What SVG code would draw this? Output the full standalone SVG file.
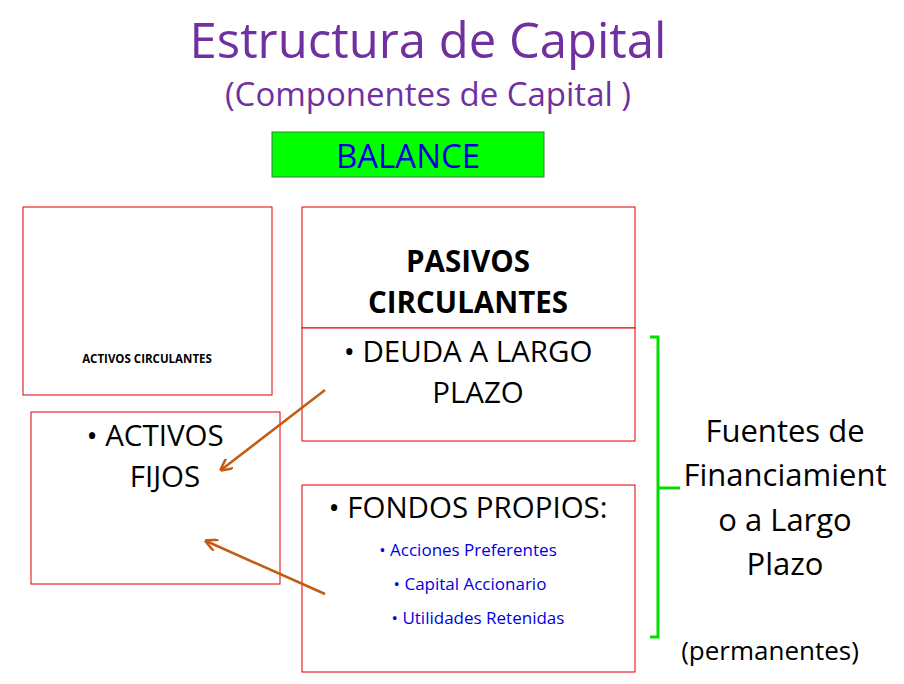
<svg xmlns="http://www.w3.org/2000/svg" width="904" height="684" viewBox="0 0 904 684">
<defs>
<style>
text{font-family:"Open Sans","Liberation Sans",sans-serif;fill:#000}
.box{fill:#fff;stroke:#e00000;stroke-width:1}
.big{font-size:29.5px}
.blue{fill:#0000e0;font-size:17px}
.arr{stroke:#c55a11;stroke-width:2.5;fill:none;marker-end:url(#ah)}
</style>
<marker id="ah" viewBox="0 0 10 10" refX="9" refY="5" markerWidth="5" markerHeight="5" orient="auto"><path d="M0 0L10 5L0 10" fill="none" stroke="#c55a11" stroke-width="2"/></marker>
</defs>
<rect width="904" height="684" fill="#fff"/>
<g id="title"><text x="428" y="58" text-anchor="middle" font-size="49" style="fill:#7030a0">Estructura de Capital</text>
<text x="428" y="106" text-anchor="middle" font-size="33" style="fill:#7030a0">(Componentes de Capital )</text></g>
<g id="balance"><rect x="272" y="132" width="272" height="45" fill="#00ff00" stroke="#3a7a3a"/><text x="408" y="168" text-anchor="middle" font-size="33" style="fill:#0000e0">BALANCE</text></g>
<g id="ac"><rect class="box" x="23" y="207" width="249" height="188"/><text x="147" y="363" text-anchor="middle" font-size="11.5" font-weight="bold">ACTIVOS CIRCULANTES</text></g>
<g id="af"><rect class="box" x="31" y="412" width="249" height="172"/><text class="big" x="155" y="446" text-anchor="middle">• ACTIVOS</text><text class="big" x="165" y="487" text-anchor="middle">FIJOS</text></g>
<g id="pc"><rect class="box" x="302" y="207" width="333" height="121"/><text class="big" x="468" y="272" text-anchor="middle" font-weight="bold">PASIVOS</text><text class="big" x="468" y="313" text-anchor="middle" font-weight="bold">CIRCULANTES</text></g>
<g id="dlp"><rect class="box" x="302" y="328" width="333" height="113"/><text class="big" x="468" y="362" text-anchor="middle">• DEUDA A LARGO</text><text class="big" x="478" y="403" text-anchor="middle">PLAZO</text></g>
<g id="fp"><rect class="box" x="302" y="485" width="333" height="187"/><text class="big" x="468" y="518" text-anchor="middle">• FONDOS PROPIOS:</text>
<text class="blue" x="468" y="556" text-anchor="middle">•  Acciones Preferentes</text>
<text class="blue" x="470" y="590" text-anchor="middle">•  Capital Accionario</text>
<text class="blue" x="478" y="624" text-anchor="middle">•  Utilidades Retenidas</text></g>
<g id="brace"><path d="M650 337H658V488H680M658 488V637H650" fill="none" stroke="#00e000" stroke-width="3"/></g>
<g id="fuentes"><text x="785" y="442" text-anchor="middle" font-size="31">Fuentes de</text><text x="785" y="486" text-anchor="middle" font-size="31">Financiamient</text><text x="785" y="531" text-anchor="middle" font-size="31">o a Largo</text><text x="785" y="575" text-anchor="middle" font-size="31">Plazo</text>
<text x="770" y="660" text-anchor="middle" font-size="26">(permanentes)</text></g>
<g id="connectors"><path class="arr" d="M325 390L221 470"/><path class="arr" d="M325 594L206 541"/></g>
</svg>
